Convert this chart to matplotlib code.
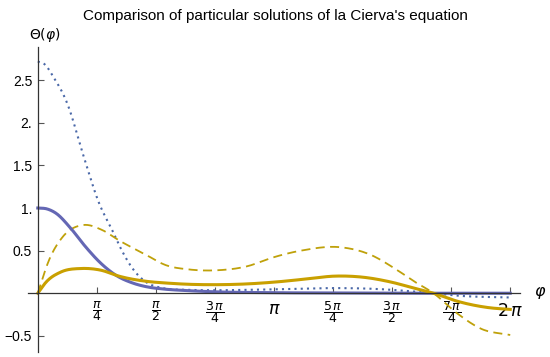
import numpy as np
import matplotlib.pyplot as plt
from matplotlib.transforms import ScaledTranslation

# values (phi in radians)
phi_solid_blue = [0.0, 0.12, 0.24, 0.44, 0.64, 0.84, 1.04, 1.26, 1.48, 1.66, 2.0, 2.4, 3.0, 4.0, 5.0, 6.28]
theta_solid_blue = [1.0, 0.99, 0.94, 0.76, 0.54, 0.35, 0.21, 0.12, 0.07, 0.05, 0.03, 0.015, 0.007, 0.003, 0.0, 0.0]

phi_dotted_blue = [0.0, 0.1, 0.2, 0.386, 0.626, 0.8, 1.0, 1.13, 1.26, 1.44, 1.66, 2.0, 2.4, 2.8, 3.4, 3.93, 4.5, 5.0, 5.26, 5.6, 6.28]
theta_dotted_blue = [2.72, 2.68, 2.55, 2.24, 1.56, 1.09, 0.72, 0.48, 0.29, 0.13, 0.06, 0.04, 0.035, 0.04, 0.05, 0.06, 0.05, 0.02, 0.0, -0.03, -0.05]

phi_solid_gold = [0.0, 0.11, 0.31, 0.57, 0.84, 1.08, 1.44, 1.7, 2.0, 2.36, 2.8, 3.14, 3.6, 3.93, 4.3, 4.7, 5.0, 5.26, 5.6, 6.0, 6.28]
theta_solid_gold = [0.0, 0.13, 0.25, 0.29, 0.27, 0.2, 0.14, 0.12, 0.105, 0.1, 0.11, 0.13, 0.17, 0.2, 0.19, 0.13, 0.06, 0.0, -0.1, -0.17, -0.19]

phi_dashed_gold = [0.0, 0.15, 0.33, 0.6, 0.86, 1.08, 1.44, 1.7, 2.0, 2.4, 2.8, 3.09, 3.5, 4.02, 4.4, 4.78, 5.0, 5.26, 5.58, 5.9, 6.28]
theta_dashed_gold = [0.0, 0.39, 0.66, 0.8, 0.74, 0.62, 0.45, 0.33, 0.28, 0.27, 0.32, 0.41, 0.5, 0.54, 0.46, 0.27, 0.14, 0.0, -0.24, -0.42, -0.49]

xtick_pos = [np.pi / 4, np.pi / 2, 3 * np.pi / 4, np.pi, 5 * np.pi / 4, 3 * np.pi / 2, 7 * np.pi / 4, 2 * np.pi]
xtick_lab = [r'$\dfrac{\pi}{4}$', r'$\dfrac{\pi}{2}$', r'$\dfrac{3\,\pi}{4}$', r'$\pi$',
             r'$\dfrac{5\,\pi}{4}$', r'$\dfrac{3\,\pi}{2}$', r'$\dfrac{7\,\pi}{4}$', r'$2\,\pi$']
ytick_pos = [-0.5, 0.5, 1.0, 1.5, 2.0, 2.5]
ytick_lab = ['\u22120.5', '0.5', '1.', '1.5', '2.', '2.5']


def smooth(xs, ys, n=400):
    # cubic hermite through the read points, only for drawing
    xs = np.asarray(xs, dtype=float)
    ys = np.asarray(ys, dtype=float)
    xx = np.linspace(xs[0], xs[-1], n)
    h = np.diff(xs)
    d = np.diff(ys) / h
    m = np.zeros_like(ys)
    m[1:-1] = (d[:-1] * h[1:] + d[1:] * h[:-1]) / (h[:-1] + h[1:])
    m[0], m[-1] = d[0], d[-1]
    i = np.clip(np.searchsorted(xs, xx) - 1, 0, len(xs) - 2)
    t = (xx - xs[i]) / h[i]
    h00 = 2 * t**3 - 3 * t**2 + 1
    h10 = t**3 - 2 * t**2 + t
    h01 = -2 * t**3 + 3 * t**2
    h11 = t**3 - t**2
    yy = h00 * ys[i] + h10 * h[i] * m[i] + h01 * ys[i + 1] + h11 * h[i] * m[i + 1]
    return xx, yy


plt.rcParams['font.family'] = ['Liberation Sans', 'DejaVu Sans']
plt.rcParams['mathtext.fontset'] = 'dejavusans'

fig = plt.figure(figsize=(5.5, 3.57), dpi=100)
ax = fig.add_axes([28 / 550, 5 / 357, 492 / 550, 305 / 357])

ax.plot(*smooth(phi_dotted_blue, theta_dotted_blue), color='#4a68a8', lw=1.5, ls=(0, (1, 2)))
ax.plot(*smooth(phi_dashed_gold, theta_dashed_gold), color='#bfa10a', lw=1.3, ls=(0, (5, 3)))
ax.plot(*smooth(phi_solid_blue, theta_solid_blue), color='#6467b4', lw=2.2)
ax.plot(*smooth(phi_solid_gold, theta_solid_gold), color='#c9a000', lw=2.2)

ax.set_xlim(-0.13, 6.41)
ax.set_ylim(-0.69, 2.89)

for s in ['top', 'right']:
    ax.spines[s].set_visible(False)
ax.spines['left'].set_position(('data', 0))
ax.spines['bottom'].set_position(('data', 0))
for s in ['left', 'bottom']:
    ax.spines[s].set_color('#333333')
    ax.spines[s].set_linewidth(0.9)

ax.set_xticks(xtick_pos)
ax.set_xticklabels(xtick_lab)
ax.set_yticks(ytick_pos)
ax.set_yticklabels(ytick_lab, fontsize=10)
ax.tick_params(axis='x', direction='in', length=4, pad=4, color='#555555')
ax.tick_params(axis='y', direction='in', length=4, pad=4, color='#555555')
for lab in ax.get_xticklabels():
    if lab.get_text() in (r'$\pi$', r'$2\,\pi$'):
        lab.set_fontsize(12.5)
        lab.set_transform(lab.get_transform() + ScaledTranslation(0, -2 / 72, fig.dpi_scale_trans))
    else:
        lab.set_fontsize(9)

ax.text(-0.12, 3.03, r'$\Theta(\varphi)$', fontsize=10, ha='left', va='center')
ax.text(6.6, 0.0, r'$\varphi$', fontsize=11.5, ha='left', va='center', clip_on=False)
fig.text(0.5, 0.975, "Comparison of particular solutions of la Cierva's equation",
         ha='center', va='top', fontsize=11)

fig.savefig('out.png', dpi=100)
